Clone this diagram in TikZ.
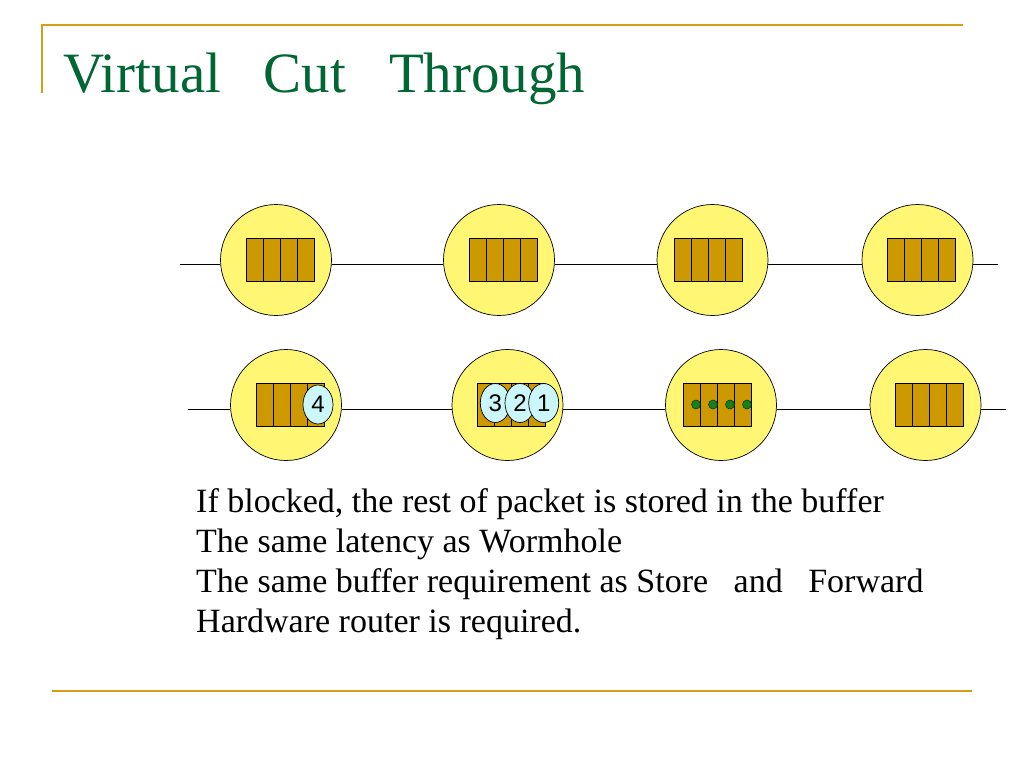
\documentclass[tikz,border=0pt]{standalone}
\usepackage{fontspec}
\setmainfont{Liberation Serif}
\newfontfamily\flitfont{Liberation Sans}
\usepackage{tikz}
\usetikzlibrary{calc,backgrounds,shapes.geometric}
\definecolor{routeryellow}{RGB}{255,247,115}
\definecolor{bufgold}{RGB}{204,153,0}
\definecolor{flitcyan}{RGB}{204,247,250}
\definecolor{titlegreen}{RGB}{0,102,51}
\definecolor{rulegold}{RGB}{212,160,23}
\definecolor{dotgreen}{RGB}{20,130,20}

\begin{document}
\begin{tikzpicture}[x=1pt,y=-1pt,
  router/.style={circle,draw,fill=routeryellow,minimum size=111pt,inner sep=0pt,line width=0.7pt},
  cell/.style={rectangle,draw,fill=bufgold,minimum width=17pt,minimum height=43pt,inner sep=0pt,line width=0.7pt},
  flit/.style={ellipse,draw,fill=flitcyan,minimum width=30pt,minimum height=39pt,inner sep=0pt,line width=0.7pt,font=\flitfont\fontsize{24}{24}\selectfont},
  flitdot/.style={circle,draw=black!70!dotgreen,fill=dotgreen,minimum size=9pt,inner sep=0pt,line width=0.5pt},
  link/.style={line width=0.7pt},
  rulebar/.style={rulegold,line width=2pt},
  bodytext/.style={anchor=base west,inner sep=0pt,font=\fontsize{34}{40}\selectfont}]
\useasboundingbox (0,0) rectangle (1024,768);

% frame
\coordinate (rtl) at (42,25);
\coordinate (rtr) at (963,25);
\coordinate (rbl) at (42,93);
\coordinate (fl) at (52,691);
\coordinate (fr) at (972,691);
\draw[rulebar] (rbl) -- (rtl) -- (rtr);
\draw[rulebar] (fl) -- (fr);

\node[anchor=base west,inner sep=0pt,text=titlegreen,font=\fontsize{57}{57}\selectfont] (title) at (63,92) {Virtual~~~Cut~~~Through};

% routers
\foreach \n/\x in {1/276,2/499,3/712.5,4/917.5}
  \node[router] (t\n) at (\x,260) {};
\foreach \n/\x in {1/286,2/507.5,3/721,4/925.5}
  \node[router] (b\n) at (\x,405) {};

% buffers
\foreach \n/\d in {1/4,2/4,3/-4,4/4}
  \foreach \c in {0,...,3} {
    \node[cell] (t\n c\c) at ($(t\n)+(\d-25.5+17*\c,0)$) {};
    \node[cell] (b\n c\c) at ($(b\n)+(\d-25.5+17*\c,0)$) {};
  }

% links
\coordinate (tin) at (180,264);
\coordinate (tout) at (998,264);
\coordinate (bin) at (188,409);
\coordinate (bout) at (1006,409);
\draw[link] (tin) -- (tin -| t1.west) (tin -| t1.east) -- (tin -| t2.west)
  (tin -| t2.east) -- (tin -| t3.west) (tin -| t3.east) -- (tin -| t4.west)
  (tin -| t4.east) -- (tout);
\draw[link] (bin) -- (bin -| b1.west) (bin -| b1.east) -- (bin -| b2.west)
  (bin -| b2.east) -- (bin -| b3.west) (bin -| b3.east) -- (bin -| b4.west)
  (bin -| b4.east) -- (bout);

% flits
\node[flit] (f4) at (318,404.5) {4};
\node[flit] (f3) at (495.3,403) {3};
\node[flit] (f2) at (520,403) {2};
\node[flit] (f1) at (543.7,403) {1};
\foreach \c in {0,...,3}
  \node[flitdot] (d\c) at ($(b3c\c)+(4.5,-0.5)$) {};

% text
\node[bodytext] (l1) at (196,512) {If blocked, the rest of packet is stored in the buffer};
\node[bodytext] (l2) at (196,552) {The same latency as Wormhole};
\node[bodytext] (l3) at (196,592) {The same buffer requirement as Store~~~and~~~Forward};
\node[bodytext] (l4) at (196,632) {Hardware router is required.};
\end{tikzpicture}
\end{document}
